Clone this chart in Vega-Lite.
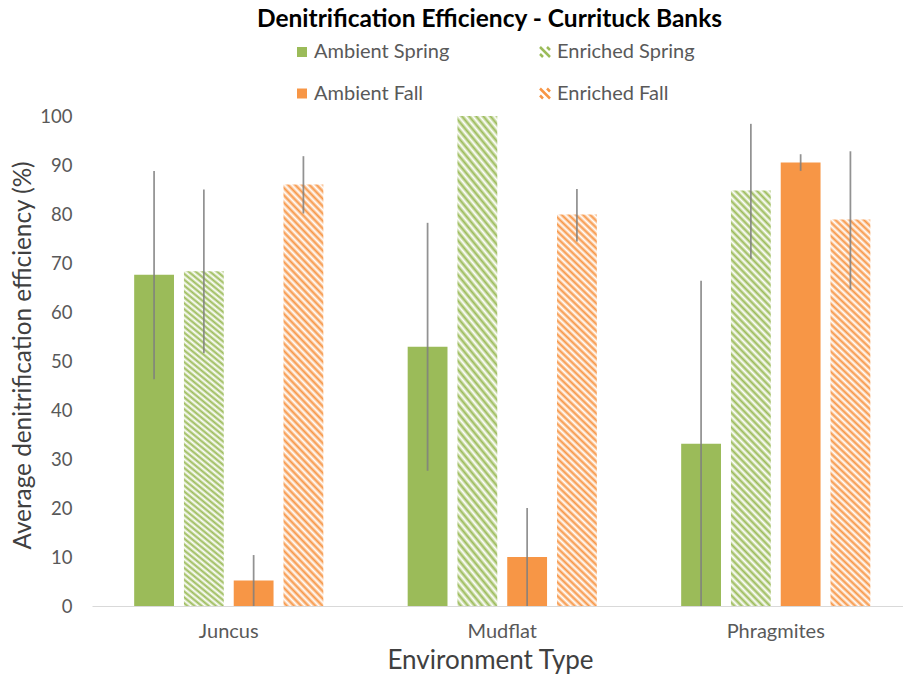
{
  "$schema": "https://vega.github.io/schema/vega-lite/v6.json",
  "width": 811,
  "height": 490,
  "autosize": {"type": "none"},
  "padding": {"left": 92, "top": 116, "right": 0, "bottom": 77},
  "background": "white",
  "title": {
    "text": "Denitrification Efficiency - Currituck Banks",
    "font": "Lato",
    "fontSize": 24.5,
    "fontWeight": "bold",
    "color": "#000000",
    "anchor": "middle",
    "frame": "group",
    "dx": -8,
    "offset": 10
  },
  "config": {
    "view": {"stroke": null},
    "font": "Lato"
  },
  "data": {
    "values": [
      {"env": "Juncus", "series": "Ambient Spring", "value": 67.6, "lo": 46.3, "hi": 88.8},
      {"env": "Juncus", "series": "Enriched Spring", "value": 68.3, "lo": 51.6, "hi": 85.0},
      {"env": "Juncus", "series": "Ambient Fall", "value": 5.2, "lo": 0, "hi": 10.4},
      {"env": "Juncus", "series": "Enriched Fall", "value": 86.0, "lo": 80.1, "hi": 91.8},
      {"env": "Mudflat", "series": "Ambient Spring", "value": 52.9, "lo": 27.6, "hi": 78.2},
      {"env": "Mudflat", "series": "Enriched Spring", "value": 100, "lo": null, "hi": null},
      {"env": "Mudflat", "series": "Ambient Fall", "value": 10.0, "lo": 0, "hi": 20.0},
      {"env": "Mudflat", "series": "Enriched Fall", "value": 79.9, "lo": 74.4, "hi": 85.1},
      {"env": "Phragmites", "series": "Ambient Spring", "value": 33.1, "lo": 0, "hi": 66.4},
      {"env": "Phragmites", "series": "Enriched Spring", "value": 84.8, "lo": 70.9, "hi": 98.4},
      {"env": "Phragmites", "series": "Ambient Fall", "value": 90.5, "lo": 88.8, "hi": 92.2},
      {"env": "Phragmites", "series": "Enriched Fall", "value": 78.9, "lo": 64.6, "hi": 92.8}
    ]
  },
  "encoding": {
    "x": {
      "field": "env",
      "type": "nominal",
      "scale": {"range": [0, 820.5], "paddingInner": 0.272, "paddingOuter": 0.136},
      "axis": {
        "title": "Environment Type",
        "titleFont": "Lato",
        "titleFontSize": 26,
        "titleFontWeight": "normal",
        "titleColor": "#404040",
        "titlePadding": 6,
        "titleX": 398,
        "titleAlign": "center",
        "labelFont": "Lato",
        "labelFontSize": 20,
        "labelColor": "#595959",
        "labelAngle": 0,
        "labelPadding": 15,
        "ticks": false,
        "domainColor": "#d9d9d9",
        "domainWidth": 1,
        "grid": false
      }
    },
    "xOffset": {
      "field": "series",
      "type": "nominal",
      "scale": {
        "domain": ["Ambient Spring", "Enriched Spring", "Ambient Fall", "Enriched Fall"],
        "paddingInner": 0.2,
        "paddingOuter": 0.1
      }
    }
  },
  "layer": [
    {
      "mark": {"type": "bar"},
      "encoding": {
        "y": {
          "field": "value",
          "type": "quantitative",
          "scale": {"domain": [0, 100], "nice": false},
          "axis": {
            "title": "Average denitrification efficiency (%)",
            "titleFont": "Lato",
            "titleFontSize": 24.3,
            "titleFontWeight": "normal",
            "titleColor": "#404040",
            "titleAngle": 270,
            "titleAlign": "center",
            "titleBaseline": "middle",
            "titleX": -69,
            "titleY": 239,
            "values": [0, 10, 20, 30, 40, 50, 60, 70, 80, 90, 100],
            "labelFont": "Lato",
            "labelFontSize": 18.5,
            "labelColor": "#595959",
            "labelPadding": 20,
            "ticks": false,
            "domain": false,
            "grid": false
          }
        },
        "color": {
          "field": "series",
          "type": "nominal",
          "scale": {
            "domain": ["Ambient Spring", "Enriched Spring", "Ambient Fall", "Enriched Fall"],
            "range": ["#9bbb59", "#9bbb59", "#f79646", "#f79646"]
          },
          "legend": {
            "title": null,
            "orient": "none",
            "legendX": 200,
            "legendY": -74,
            "direction": "vertical",
            "values": ["Ambient Spring", "Ambient Fall"],
            "rowPadding": 21.5,
            "symbolType": "square",
            "symbolSize": 100,
            "symbolStrokeWidth": 0,
            "labelFont": "Lato",
            "labelFontSize": 20,
            "labelColor": "#595959",
            "labelOffset": 2
          },
          "condition": [
            {
              "test": "datum.series === 'Enriched Spring'",
              "value": {"gradient": "linear", "x1": 0, "y1": 1, "x2": 0.107, "y2": -0.088, "stops": [
                {"offset": 0, "color": "white"}, {"offset": 0.008, "color": "#9bbb59"}, {"offset": 0.016, "color": "white"}, {"offset": 0.024, "color": "#9bbb59"}, {"offset": 0.032, "color": "white"}, {"offset": 0.04, "color": "#9bbb59"},
                {"offset": 0.048, "color": "white"}, {"offset": 0.056, "color": "#9bbb59"}, {"offset": 0.064, "color": "white"}, {"offset": 0.072, "color": "#9bbb59"}, {"offset": 0.08, "color": "white"}, {"offset": 0.088, "color": "#9bbb59"},
                {"offset": 0.096, "color": "white"}, {"offset": 0.104, "color": "#9bbb59"}, {"offset": 0.112, "color": "white"}, {"offset": 0.12, "color": "#9bbb59"}, {"offset": 0.128, "color": "white"}, {"offset": 0.136, "color": "#9bbb59"},
                {"offset": 0.144, "color": "white"}, {"offset": 0.152, "color": "#9bbb59"}, {"offset": 0.16, "color": "white"}, {"offset": 0.168, "color": "#9bbb59"}, {"offset": 0.176, "color": "white"}, {"offset": 0.184, "color": "#9bbb59"},
                {"offset": 0.192, "color": "white"}, {"offset": 0.2, "color": "#9bbb59"}, {"offset": 0.208, "color": "white"}, {"offset": 0.216, "color": "#9bbb59"}, {"offset": 0.224, "color": "white"}, {"offset": 0.232, "color": "#9bbb59"},
                {"offset": 0.24, "color": "white"}, {"offset": 0.248, "color": "#9bbb59"}, {"offset": 0.256, "color": "white"}, {"offset": 0.264, "color": "#9bbb59"}, {"offset": 0.272, "color": "white"}, {"offset": 0.28, "color": "#9bbb59"},
                {"offset": 0.288, "color": "white"}, {"offset": 0.296, "color": "#9bbb59"}, {"offset": 0.304, "color": "white"}, {"offset": 0.312, "color": "#9bbb59"}, {"offset": 0.32, "color": "white"}, {"offset": 0.328, "color": "#9bbb59"},
                {"offset": 0.336, "color": "white"}, {"offset": 0.344, "color": "#9bbb59"}, {"offset": 0.352, "color": "white"}, {"offset": 0.36, "color": "#9bbb59"}, {"offset": 0.368, "color": "white"}, {"offset": 0.376, "color": "#9bbb59"},
                {"offset": 0.384, "color": "white"}, {"offset": 0.392, "color": "#9bbb59"}, {"offset": 0.4, "color": "white"}, {"offset": 0.408, "color": "#9bbb59"}, {"offset": 0.416, "color": "white"}, {"offset": 0.424, "color": "#9bbb59"},
                {"offset": 0.432, "color": "white"}, {"offset": 0.44, "color": "#9bbb59"}, {"offset": 0.448, "color": "white"}, {"offset": 0.456, "color": "#9bbb59"}, {"offset": 0.464, "color": "white"}, {"offset": 0.472, "color": "#9bbb59"},
                {"offset": 0.48, "color": "white"}, {"offset": 0.488, "color": "#9bbb59"}, {"offset": 0.496, "color": "white"}, {"offset": 0.504, "color": "#9bbb59"}, {"offset": 0.512, "color": "white"}, {"offset": 0.52, "color": "#9bbb59"},
                {"offset": 0.528, "color": "white"}, {"offset": 0.536, "color": "#9bbb59"}, {"offset": 0.544, "color": "white"}, {"offset": 0.552, "color": "#9bbb59"}, {"offset": 0.56, "color": "white"}, {"offset": 0.568, "color": "#9bbb59"},
                {"offset": 0.576, "color": "white"}, {"offset": 0.584, "color": "#9bbb59"}, {"offset": 0.592, "color": "white"}, {"offset": 0.6, "color": "#9bbb59"}, {"offset": 0.608, "color": "white"}, {"offset": 0.616, "color": "#9bbb59"},
                {"offset": 0.624, "color": "white"}, {"offset": 0.632, "color": "#9bbb59"}, {"offset": 0.64, "color": "white"}, {"offset": 0.648, "color": "#9bbb59"}, {"offset": 0.656, "color": "white"}, {"offset": 0.664, "color": "#9bbb59"},
                {"offset": 0.672, "color": "white"}, {"offset": 0.68, "color": "#9bbb59"}, {"offset": 0.688, "color": "white"}, {"offset": 0.696, "color": "#9bbb59"}, {"offset": 0.704, "color": "white"}, {"offset": 0.712, "color": "#9bbb59"},
                {"offset": 0.72, "color": "white"}, {"offset": 0.728, "color": "#9bbb59"}, {"offset": 0.736, "color": "white"}, {"offset": 0.744, "color": "#9bbb59"}, {"offset": 0.752, "color": "white"}, {"offset": 0.76, "color": "#9bbb59"},
                {"offset": 0.768, "color": "white"}, {"offset": 0.776, "color": "#9bbb59"}, {"offset": 0.784, "color": "white"}, {"offset": 0.792, "color": "#9bbb59"}, {"offset": 0.8, "color": "white"}, {"offset": 0.808, "color": "#9bbb59"},
                {"offset": 0.816, "color": "white"}, {"offset": 0.824, "color": "#9bbb59"}, {"offset": 0.832, "color": "white"}, {"offset": 0.84, "color": "#9bbb59"}, {"offset": 0.848, "color": "white"}, {"offset": 0.856, "color": "#9bbb59"},
                {"offset": 0.864, "color": "white"}, {"offset": 0.872, "color": "#9bbb59"}, {"offset": 0.88, "color": "white"}, {"offset": 0.888, "color": "#9bbb59"}, {"offset": 0.896, "color": "white"}, {"offset": 0.904, "color": "#9bbb59"},
                {"offset": 0.912, "color": "white"}, {"offset": 0.92, "color": "#9bbb59"}, {"offset": 0.928, "color": "white"}, {"offset": 0.936, "color": "#9bbb59"}, {"offset": 0.944, "color": "white"}, {"offset": 0.952, "color": "#9bbb59"},
                {"offset": 0.96, "color": "white"}, {"offset": 0.968, "color": "#9bbb59"}, {"offset": 0.976, "color": "white"}, {"offset": 0.984, "color": "#9bbb59"}, {"offset": 0.992, "color": "white"}, {"offset": 1, "color": "#9bbb59"}
              ]}
            },
            {
              "test": "datum.series === 'Enriched Fall'",
              "value": {"gradient": "linear", "x1": 0, "y1": 1, "x2": 0.107, "y2": -0.088, "stops": [
                {"offset": 0, "color": "white"}, {"offset": 0.008, "color": "#f79646"}, {"offset": 0.016, "color": "white"}, {"offset": 0.024, "color": "#f79646"}, {"offset": 0.032, "color": "white"}, {"offset": 0.04, "color": "#f79646"},
                {"offset": 0.048, "color": "white"}, {"offset": 0.056, "color": "#f79646"}, {"offset": 0.064, "color": "white"}, {"offset": 0.072, "color": "#f79646"}, {"offset": 0.08, "color": "white"}, {"offset": 0.088, "color": "#f79646"},
                {"offset": 0.096, "color": "white"}, {"offset": 0.104, "color": "#f79646"}, {"offset": 0.112, "color": "white"}, {"offset": 0.12, "color": "#f79646"}, {"offset": 0.128, "color": "white"}, {"offset": 0.136, "color": "#f79646"},
                {"offset": 0.144, "color": "white"}, {"offset": 0.152, "color": "#f79646"}, {"offset": 0.16, "color": "white"}, {"offset": 0.168, "color": "#f79646"}, {"offset": 0.176, "color": "white"}, {"offset": 0.184, "color": "#f79646"},
                {"offset": 0.192, "color": "white"}, {"offset": 0.2, "color": "#f79646"}, {"offset": 0.208, "color": "white"}, {"offset": 0.216, "color": "#f79646"}, {"offset": 0.224, "color": "white"}, {"offset": 0.232, "color": "#f79646"},
                {"offset": 0.24, "color": "white"}, {"offset": 0.248, "color": "#f79646"}, {"offset": 0.256, "color": "white"}, {"offset": 0.264, "color": "#f79646"}, {"offset": 0.272, "color": "white"}, {"offset": 0.28, "color": "#f79646"},
                {"offset": 0.288, "color": "white"}, {"offset": 0.296, "color": "#f79646"}, {"offset": 0.304, "color": "white"}, {"offset": 0.312, "color": "#f79646"}, {"offset": 0.32, "color": "white"}, {"offset": 0.328, "color": "#f79646"},
                {"offset": 0.336, "color": "white"}, {"offset": 0.344, "color": "#f79646"}, {"offset": 0.352, "color": "white"}, {"offset": 0.36, "color": "#f79646"}, {"offset": 0.368, "color": "white"}, {"offset": 0.376, "color": "#f79646"},
                {"offset": 0.384, "color": "white"}, {"offset": 0.392, "color": "#f79646"}, {"offset": 0.4, "color": "white"}, {"offset": 0.408, "color": "#f79646"}, {"offset": 0.416, "color": "white"}, {"offset": 0.424, "color": "#f79646"},
                {"offset": 0.432, "color": "white"}, {"offset": 0.44, "color": "#f79646"}, {"offset": 0.448, "color": "white"}, {"offset": 0.456, "color": "#f79646"}, {"offset": 0.464, "color": "white"}, {"offset": 0.472, "color": "#f79646"},
                {"offset": 0.48, "color": "white"}, {"offset": 0.488, "color": "#f79646"}, {"offset": 0.496, "color": "white"}, {"offset": 0.504, "color": "#f79646"}, {"offset": 0.512, "color": "white"}, {"offset": 0.52, "color": "#f79646"},
                {"offset": 0.528, "color": "white"}, {"offset": 0.536, "color": "#f79646"}, {"offset": 0.544, "color": "white"}, {"offset": 0.552, "color": "#f79646"}, {"offset": 0.56, "color": "white"}, {"offset": 0.568, "color": "#f79646"},
                {"offset": 0.576, "color": "white"}, {"offset": 0.584, "color": "#f79646"}, {"offset": 0.592, "color": "white"}, {"offset": 0.6, "color": "#f79646"}, {"offset": 0.608, "color": "white"}, {"offset": 0.616, "color": "#f79646"},
                {"offset": 0.624, "color": "white"}, {"offset": 0.632, "color": "#f79646"}, {"offset": 0.64, "color": "white"}, {"offset": 0.648, "color": "#f79646"}, {"offset": 0.656, "color": "white"}, {"offset": 0.664, "color": "#f79646"},
                {"offset": 0.672, "color": "white"}, {"offset": 0.68, "color": "#f79646"}, {"offset": 0.688, "color": "white"}, {"offset": 0.696, "color": "#f79646"}, {"offset": 0.704, "color": "white"}, {"offset": 0.712, "color": "#f79646"},
                {"offset": 0.72, "color": "white"}, {"offset": 0.728, "color": "#f79646"}, {"offset": 0.736, "color": "white"}, {"offset": 0.744, "color": "#f79646"}, {"offset": 0.752, "color": "white"}, {"offset": 0.76, "color": "#f79646"},
                {"offset": 0.768, "color": "white"}, {"offset": 0.776, "color": "#f79646"}, {"offset": 0.784, "color": "white"}, {"offset": 0.792, "color": "#f79646"}, {"offset": 0.8, "color": "white"}, {"offset": 0.808, "color": "#f79646"},
                {"offset": 0.816, "color": "white"}, {"offset": 0.824, "color": "#f79646"}, {"offset": 0.832, "color": "white"}, {"offset": 0.84, "color": "#f79646"}, {"offset": 0.848, "color": "white"}, {"offset": 0.856, "color": "#f79646"},
                {"offset": 0.864, "color": "white"}, {"offset": 0.872, "color": "#f79646"}, {"offset": 0.88, "color": "white"}, {"offset": 0.888, "color": "#f79646"}, {"offset": 0.896, "color": "white"}, {"offset": 0.904, "color": "#f79646"},
                {"offset": 0.912, "color": "white"}, {"offset": 0.92, "color": "#f79646"}, {"offset": 0.928, "color": "white"}, {"offset": 0.936, "color": "#f79646"}, {"offset": 0.944, "color": "white"}, {"offset": 0.952, "color": "#f79646"},
                {"offset": 0.96, "color": "white"}, {"offset": 0.968, "color": "#f79646"}, {"offset": 0.976, "color": "white"}, {"offset": 0.984, "color": "#f79646"}, {"offset": 0.992, "color": "white"}, {"offset": 1, "color": "#f79646"}
              ]}
            }
          ]
        }
      }
    },
    {
      "mark": {"type": "rule", "color": "#7f7f7f", "strokeWidth": 1.75, "opacity": 0.85},
      "encoding": {
        "y": {"field": "lo", "type": "quantitative"},
        "y2": {"field": "hi"}
      }
    },
    {
      "transform": [{"filter": {"field": "series", "oneOf": ["Enriched Spring", "Enriched Fall"]}}],
      "mark": {
        "type": "point",
        "shape": "M-1,-1L1,1M0.4,-1L1,-0.4M-1,0.4L-0.4,1",
        "size": 0,
        "filled": false,
        "strokeWidth": 2.5
      },
      "encoding": {
        "y": {"field": "value", "type": "quantitative"},
        "stroke": {
          "field": "series",
          "type": "nominal",
          "scale": {
            "domain": ["Enriched Spring", "Enriched Fall"],
            "range": ["#9bbb59", "#f79646"]
          },
          "legend": {
            "title": null,
            "orient": "none",
            "legendX": 443,
            "legendY": -74,
            "direction": "vertical",
            "rowPadding": 21.5,
            "symbolSize": 100,
            "symbolStrokeWidth": 2.5,
            "symbolOpacity": 1,
            "labelFont": "Lato",
            "labelFontSize": 20,
            "labelColor": "#595959",
            "labelOffset": 2
          }
        }
      }
    }
  ]
}
